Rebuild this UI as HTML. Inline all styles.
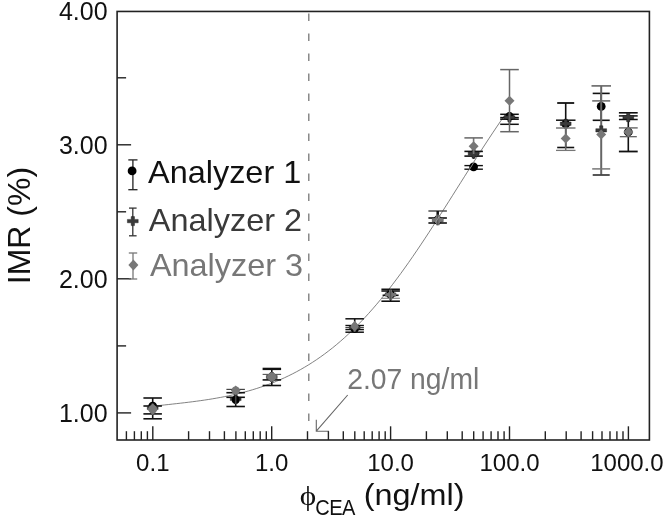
<!DOCTYPE html>
<html><head><meta charset="utf-8"><title>IMR vs CEA concentration</title>
<style>html,body{margin:0;padding:0;background:#fff}svg{display:block;filter:blur(0.35px)}</style></head>
<body>
<svg width="666" height="523" viewBox="0 0 666 523" font-family="'Liberation Sans', sans-serif">
<rect width="666" height="523" fill="#fff"/>
<line x1="308.8" y1="13.5" x2="308.8" y2="421" stroke="#777" stroke-width="1.3" stroke-dasharray="7.5 12.5"/>
<path d="M152.7,406.26 L156.7,405.81 L160.7,405.37 L164.7,404.93 L168.7,404.50 L172.7,404.06 L176.7,403.62 L180.7,403.16 L184.7,402.70 L188.7,402.21 L192.7,401.71 L196.7,401.18 L200.7,400.63 L204.7,400.05 L208.7,399.44 L212.7,398.79 L216.7,398.10 L220.7,397.38 L224.7,396.60 L228.7,395.79 L232.7,394.92 L236.7,394.00 L240.7,393.02 L244.7,391.98 L248.7,390.88 L252.7,389.71 L256.7,388.48 L260.7,387.17 L264.7,385.79 L268.7,384.34 L272.7,382.80 L276.7,381.17 L280.7,379.46 L284.7,377.66 L288.7,375.76 L292.7,373.77 L296.7,371.67 L300.7,369.47 L304.7,367.16 L308.7,364.75 L312.7,362.21 L316.7,359.57 L320.7,356.80 L324.7,353.91 L328.7,350.89 L332.7,347.75 L336.7,344.47 L340.7,341.06 L344.7,337.52 L348.7,333.84 L352.7,330.03 L356.7,326.08 L360.7,321.98 L364.7,317.75 L368.7,313.38 L372.7,308.87 L376.7,304.22 L380.7,299.44 L384.7,294.52 L388.7,289.47 L392.7,284.29 L396.7,278.99 L400.7,273.58 L404.7,268.04 L408.7,262.40 L412.7,256.65 L416.7,250.81 L420.7,244.88 L424.7,238.87 L428.7,232.79 L432.7,226.64 L436.7,220.44 L440.7,214.18 L444.7,207.90 L448.7,201.58 L452.7,195.25 L456.7,188.90 L460.7,182.56 L464.7,176.23 L468.7,169.91 L472.7,163.63 L476.7,157.38 L480.7,151.17 L484.7,145.02 L488.7,138.92 L492.7,132.89 L496.7,126.93 L500.7,121.04 L504.7,115.24" fill="none" stroke="#6c6c6c" stroke-width="0.85" stroke-linejoin="round"/>
<path d="M347.7,395 L316.3,431.2 M316.3,419.8 L316.3,431.2 L329,431.2" fill="none" stroke="#666" stroke-width="1.1"/>
<line x1="152.7" y1="398.0" x2="152.7" y2="418.8" stroke="#111" stroke-width="1.6"/>
<line x1="143.4" y1="398.0" x2="161.9" y2="398.0" stroke="#111" stroke-width="1.6"/>
<line x1="143.4" y1="413.9" x2="161.9" y2="413.9" stroke="#111" stroke-width="1.6"/>
<circle cx="152.7" cy="406.2" r="4.4" fill="#000"/>
<line x1="143.4" y1="406.0" x2="161.9" y2="406.0" stroke="#111" stroke-width="1.6"/>
<line x1="143.4" y1="418.8" x2="161.9" y2="418.8" stroke="#111" stroke-width="1.6"/>
<path d="M147.3,406.4H151.0V403.5H154.3V406.4H158.1V409.6H154.3V412.5H151.0V409.6H147.3Z" fill="#3a3a3a" stroke="#111" stroke-width="0.4"/>
<path d="M152.7,403.3L157.9,409.3L152.7,415.3L147.5,409.3Z" fill="#777"/>
<circle cx="152.7" cy="409.3" r="4.3" fill="#777"/>
<line x1="235.7" y1="392.7" x2="235.7" y2="406.5" stroke="#111" stroke-width="1.6"/>
<line x1="226.4" y1="392.7" x2="244.9" y2="392.7" stroke="#111" stroke-width="1.6"/>
<line x1="226.4" y1="406.5" x2="244.9" y2="406.5" stroke="#111" stroke-width="1.6"/>
<path d="M230.3,397.4H234.0V394.5H237.3V397.4H241.1V400.6H237.3V403.5H234.0V400.6H230.3Z" fill="#3a3a3a" stroke="#111" stroke-width="0.4"/>
<line x1="226.4" y1="397.3" x2="244.9" y2="397.3" stroke="#111" stroke-width="1.6"/>
<circle cx="235.7" cy="399.7" r="4.0" fill="#000"/>
<line x1="235.7" y1="396.0" x2="235.7" y2="404.0" stroke="#444" stroke-width="1.6"/>
<line x1="235.7" y1="389.4" x2="235.7" y2="393.0" stroke="#777" stroke-width="1.6"/>
<line x1="226.4" y1="389.4" x2="244.9" y2="389.4" stroke="#444" stroke-width="1.2"/>
<path d="M235.7,385.6L240.5,390.4L235.7,395.2L230.9,390.4Z" fill="#777"/>
<circle cx="235.7" cy="390.4" r="3.9" fill="#777"/>
<line x1="271.8" y1="368.9" x2="271.8" y2="385.5" stroke="#111" stroke-width="1.6"/>
<line x1="262.6" y1="368.9" x2="281.1" y2="368.9" stroke="#111" stroke-width="2.4"/>
<line x1="262.6" y1="385.5" x2="281.1" y2="385.5" stroke="#111" stroke-width="1.6"/>
<circle cx="271.8" cy="377.0" r="4.4" fill="#000"/>
<line x1="262.6" y1="379.9" x2="281.1" y2="379.9" stroke="#111" stroke-width="1.6"/>
<path d="M266.4,375.4H270.2V372.5H273.4V375.4H277.2V378.6H273.4V381.5H270.2V378.6H266.4Z" fill="#3a3a3a" stroke="#111" stroke-width="0.4"/>
<line x1="262.6" y1="374.4" x2="281.1" y2="374.4" stroke="#555" stroke-width="1.1"/>
<path d="M271.8,372.0L277.1,377.0L271.8,382.0L266.5,377.0Z" fill="#777"/>
<circle cx="271.8" cy="377.0" r="4.4" fill="#777"/>
<line x1="354.7" y1="318.8" x2="354.7" y2="332.2" stroke="#111" stroke-width="1.6"/>
<line x1="345.4" y1="318.8" x2="363.9" y2="318.8" stroke="#111" stroke-width="1.5"/>
<line x1="345.4" y1="332.2" x2="363.9" y2="332.2" stroke="#111" stroke-width="1.5"/>
<circle cx="354.7" cy="328.5" r="4.4" fill="#000"/>
<line x1="345.4" y1="325.5" x2="363.9" y2="325.5" stroke="#111" stroke-width="1.4"/>
<line x1="345.4" y1="329.6" x2="363.9" y2="329.6" stroke="#111" stroke-width="1.4"/>
<path d="M349.3,325.9H353.1V323.0H356.3V325.9H360.1V329.1H356.3V332.0H353.1V329.1H349.3Z" fill="#3a3a3a" stroke="#111" stroke-width="0.4"/>
<line x1="345.4" y1="327.6" x2="363.9" y2="327.6" stroke="#444" stroke-width="1.2"/>
<path d="M354.7,320.7L358.9,326.3L354.7,331.9L350.5,326.3Z" fill="#777"/>
<circle cx="354.7" cy="326.3" r="3.4" fill="#777"/>
<line x1="390.6" y1="289.1" x2="390.6" y2="301.2" stroke="#111" stroke-width="1.6"/>
<line x1="381.4" y1="289.3" x2="399.9" y2="289.3" stroke="#111" stroke-width="1.6"/>
<line x1="381.4" y1="291.0" x2="399.9" y2="291.0" stroke="#111" stroke-width="1.6"/>
<line x1="381.4" y1="301.2" x2="399.9" y2="301.2" stroke="#111" stroke-width="1.6"/>
<circle cx="390.6" cy="294.5" r="4.4" fill="#000"/>
<line x1="382.6" y1="295.3" x2="398.6" y2="295.3" stroke="#111" stroke-width="1.6"/>
<path d="M385.2,292.9H389.0V290.0H392.2V292.9H396.0V296.1H392.2V299.0H389.0V296.1H385.2Z" fill="#3a3a3a" stroke="#111" stroke-width="0.4"/>
<line x1="381.4" y1="298.3" x2="399.9" y2="298.3" stroke="#888" stroke-width="1.2"/>
<path d="M385.3,293.2H389.1V289.7H392.1V293.2H395.9V296.2H392.1V299.7H389.1V296.2H385.3Z" fill="#777"/>
<path d="M390.6,290.3L395.0,294.7L390.6,299.1L386.2,294.7Z" fill="#777"/>
<line x1="390.6" y1="289.7" x2="390.6" y2="299.7" stroke="#555" stroke-width="1.3"/>
<line x1="437.7" y1="211.0" x2="437.7" y2="223.0" stroke="#111" stroke-width="1.6"/>
<line x1="428.4" y1="218.0" x2="446.9" y2="218.0" stroke="#111" stroke-width="1.6"/>
<line x1="428.4" y1="223.0" x2="446.9" y2="223.0" stroke="#111" stroke-width="1.6"/>
<circle cx="437.7" cy="220.0" r="4.4" fill="#000"/>
<path d="M432.3,218.3H436.1V215.5H439.3V218.3H443.1V221.7H439.3V224.5H436.1V221.7H432.3Z" fill="#3a3a3a" stroke="#111" stroke-width="0.4"/>
<line x1="428.4" y1="211.0" x2="446.9" y2="211.0" stroke="#444" stroke-width="1.4"/>
<line x1="437.7" y1="211.0" x2="437.7" y2="216.0" stroke="#111" stroke-width="2.4"/>
<path d="M432.1,218.3H436.0V214.8H439.4V218.3H443.3V221.7H439.4V225.2H436.0V221.7H432.1Z" fill="#777"/>
<path d="M437.7,214.9L442.8,220.0L437.7,225.1L432.6,220.0Z" fill="#777"/>
<line x1="437.7" y1="214.8" x2="437.7" y2="225.2" stroke="#555" stroke-width="1.3"/>
<line x1="435.4" y1="222.6" x2="439.8" y2="215.6" stroke="#a5a5a5" stroke-width="0.8"/>
<line x1="473.6" y1="165.5" x2="473.6" y2="169.2" stroke="#111" stroke-width="1.6"/>
<line x1="464.4" y1="165.6" x2="482.9" y2="165.6" stroke="#111" stroke-width="1.4"/>
<line x1="464.4" y1="169.2" x2="482.9" y2="169.2" stroke="#111" stroke-width="1.4"/>
<circle cx="473.6" cy="166.8" r="4.4" fill="#000"/>
<line x1="473.6" y1="151.4" x2="473.6" y2="159.0" stroke="#3a3a3a" stroke-width="1.6"/>
<line x1="464.4" y1="151.4" x2="482.9" y2="151.4" stroke="#111" stroke-width="1.6"/>
<line x1="464.4" y1="156.1" x2="482.9" y2="156.1" stroke="#111" stroke-width="1.6"/>
<path d="M468.2,152.0H472.0V149.2H475.2V152.0H479.0V155.3H475.2V158.2H472.0V155.3H468.2Z" fill="#3a3a3a" stroke="#111" stroke-width="0.4"/>
<line x1="473.6" y1="137.9" x2="473.6" y2="154.0" stroke="#777" stroke-width="1.6"/>
<line x1="464.4" y1="137.9" x2="482.9" y2="137.9" stroke="#666" stroke-width="1.5"/>
<path d="M473.6,141.2L478.6,146.2L473.6,151.2L468.6,146.2Z" fill="#777"/>
<line x1="469" y1="170.2" x2="474.2" y2="161.8" stroke="#999" stroke-width="0.9"/>
<line x1="509.5" y1="114.3" x2="509.5" y2="124.3" stroke="#111" stroke-width="1.6"/>
<line x1="500.2" y1="114.3" x2="518.8" y2="114.3" stroke="#111" stroke-width="1.5"/>
<line x1="500.2" y1="119.2" x2="518.8" y2="119.2" stroke="#111" stroke-width="1.5"/>
<circle cx="509.5" cy="116.5" r="4.4" fill="#000"/>
<line x1="500.2" y1="117.6" x2="518.8" y2="117.6" stroke="#111" stroke-width="1.5"/>
<line x1="500.2" y1="124.3" x2="518.8" y2="124.3" stroke="#111" stroke-width="1.5"/>
<path d="M504.1,115.8H507.9V112.9H511.1V115.8H514.9V119.1H511.1V121.9H507.9V119.1H504.1Z" fill="#3a3a3a" stroke="#111" stroke-width="0.4"/>
<line x1="509.5" y1="69.6" x2="509.5" y2="131.7" stroke="#666" stroke-width="1.5"/>
<line x1="500.2" y1="69.6" x2="518.8" y2="69.6" stroke="#666" stroke-width="1.5"/>
<line x1="500.2" y1="131.7" x2="518.8" y2="131.7" stroke="#666" stroke-width="1.5"/>
<path d="M509.5,95.7L514.5,100.7L509.5,105.7L504.5,100.7Z" fill="#777"/>
<line x1="565.7" y1="103.0" x2="565.7" y2="147.5" stroke="#111" stroke-width="1.6"/>
<line x1="557.2" y1="103.0" x2="574.2" y2="103.0" stroke="#111" stroke-width="1.8"/>
<line x1="557.2" y1="147.5" x2="574.2" y2="147.5" stroke="#111" stroke-width="1.6"/>
<circle cx="565.7" cy="124.0" r="4.4" fill="#000"/>
<line x1="556.0" y1="120.2" x2="575.5" y2="120.2" stroke="#111" stroke-width="1.5"/>
<path d="M560.3,122.0H564.1V119.2H567.4V122.0H571.1V125.4H567.4V128.2H564.1V125.4H560.3Z" fill="#3a3a3a" stroke="#111" stroke-width="0.4"/>
<line x1="565.7" y1="128.0" x2="565.7" y2="150.4" stroke="#666" stroke-width="1.5"/>
<line x1="556.0" y1="128.0" x2="575.5" y2="128.0" stroke="#777" stroke-width="1.5"/>
<line x1="556.0" y1="150.4" x2="575.5" y2="150.4" stroke="#777" stroke-width="1.3"/>
<path d="M565.7,133.6L570.7,138.6L565.7,143.6L560.7,138.6Z" fill="#777"/>
<line x1="601.2" y1="93.4" x2="601.2" y2="120.3" stroke="#111" stroke-width="1.6"/>
<line x1="592.7" y1="93.4" x2="609.7" y2="93.4" stroke="#111" stroke-width="1.6"/>
<line x1="592.7" y1="120.3" x2="609.7" y2="120.3" stroke="#111" stroke-width="1.6"/>
<circle cx="601.2" cy="106.4" r="4.4" fill="#000"/>
<line x1="601.2" y1="85.9" x2="601.2" y2="175.0" stroke="#666" stroke-width="2"/>
<line x1="591.5" y1="85.9" x2="611.0" y2="85.9" stroke="#666" stroke-width="1.6"/>
<line x1="592.7" y1="175.0" x2="609.7" y2="175.0" stroke="#444" stroke-width="1.8"/>
<path d="M595.8,128.7H599.6V125.8H602.9V128.7H606.6V132.0H602.9V134.8H599.6V132.0H595.8Z" fill="#3a3a3a" stroke="#111" stroke-width="0.4"/>
<line x1="592.2" y1="100.9" x2="610.2" y2="100.9" stroke="#666" stroke-width="1.5"/>
<line x1="592.2" y1="168.9" x2="610.2" y2="168.9" stroke="#777" stroke-width="1.5"/>
<path d="M601.2,129.6L606.2,134.6L601.2,139.6L596.2,134.6Z" fill="#777"/>
<line x1="628.3" y1="113.0" x2="628.3" y2="151.5" stroke="#111" stroke-width="1.6"/>
<line x1="618.9" y1="112.8" x2="637.7" y2="112.8" stroke="#111" stroke-width="1.6"/>
<line x1="618.9" y1="151.5" x2="637.7" y2="151.5" stroke="#111" stroke-width="1.8"/>
<circle cx="628.3" cy="132.0" r="4.4" fill="#000"/>
<line x1="618.9" y1="115.9" x2="637.7" y2="115.9" stroke="#111" stroke-width="1.5"/>
<line x1="618.9" y1="119.5" x2="637.7" y2="119.5" stroke="#111" stroke-width="1.5"/>
<path d="M622.9,115.5H626.6V112.7H629.9V115.5H633.7V118.9H629.9V121.7H626.6V118.9H622.9Z" fill="#3a3a3a" stroke="#111" stroke-width="0.4"/>
<line x1="618.9" y1="127.9" x2="637.7" y2="127.9" stroke="#666" stroke-width="1.4"/>
<line x1="619.8" y1="136.7" x2="636.8" y2="136.7" stroke="#555" stroke-width="1.2"/>
<path d="M628.3,127.1L633.3,132.1L628.3,137.1L623.3,132.1Z" fill="#777"/>
<rect x="117.1" y="11.45" width="532.3" height="428.55" fill="none" stroke="#222" stroke-width="1.6"/>
<line x1="117.1" y1="412.9" x2="131.1" y2="412.9" stroke="#222" stroke-width="1.4"/>
<line x1="117.1" y1="278.8" x2="131.1" y2="278.8" stroke="#222" stroke-width="1.4"/>
<line x1="117.1" y1="144.8" x2="131.1" y2="144.8" stroke="#222" stroke-width="1.4"/>
<line x1="117.1" y1="345.9" x2="126.1" y2="345.9" stroke="#222" stroke-width="1.4"/>
<line x1="117.1" y1="211.8" x2="126.1" y2="211.8" stroke="#222" stroke-width="1.4"/>
<line x1="117.1" y1="77.8" x2="126.1" y2="77.8" stroke="#222" stroke-width="1.4"/>
<line x1="126.4" y1="440.0" x2="126.4" y2="431.2" stroke="#222" stroke-width="1.4"/>
<line x1="134.4" y1="440.0" x2="134.4" y2="431.2" stroke="#222" stroke-width="1.4"/>
<line x1="141.3" y1="440.0" x2="141.3" y2="431.2" stroke="#222" stroke-width="1.4"/>
<line x1="147.4" y1="440.0" x2="147.4" y2="431.2" stroke="#222" stroke-width="1.4"/>
<line x1="152.8" y1="440.0" x2="152.8" y2="426.3" stroke="#222" stroke-width="1.4"/>
<line x1="188.6" y1="440.0" x2="188.6" y2="431.2" stroke="#222" stroke-width="1.4"/>
<line x1="209.5" y1="440.0" x2="209.5" y2="431.2" stroke="#222" stroke-width="1.4"/>
<line x1="224.4" y1="440.0" x2="224.4" y2="431.2" stroke="#222" stroke-width="1.4"/>
<line x1="235.9" y1="440.0" x2="235.9" y2="431.2" stroke="#222" stroke-width="1.4"/>
<line x1="245.3" y1="440.0" x2="245.3" y2="431.2" stroke="#222" stroke-width="1.4"/>
<line x1="253.3" y1="440.0" x2="253.3" y2="431.2" stroke="#222" stroke-width="1.4"/>
<line x1="260.2" y1="440.0" x2="260.2" y2="431.2" stroke="#222" stroke-width="1.4"/>
<line x1="266.3" y1="440.0" x2="266.3" y2="431.2" stroke="#222" stroke-width="1.4"/>
<line x1="271.7" y1="440.0" x2="271.7" y2="426.3" stroke="#222" stroke-width="1.4"/>
<line x1="307.5" y1="440.0" x2="307.5" y2="431.2" stroke="#222" stroke-width="1.4"/>
<line x1="328.4" y1="440.0" x2="328.4" y2="431.2" stroke="#222" stroke-width="1.4"/>
<line x1="343.3" y1="440.0" x2="343.3" y2="431.2" stroke="#222" stroke-width="1.4"/>
<line x1="354.8" y1="440.0" x2="354.8" y2="431.2" stroke="#222" stroke-width="1.4"/>
<line x1="364.2" y1="440.0" x2="364.2" y2="431.2" stroke="#222" stroke-width="1.4"/>
<line x1="372.2" y1="440.0" x2="372.2" y2="431.2" stroke="#222" stroke-width="1.4"/>
<line x1="379.1" y1="440.0" x2="379.1" y2="431.2" stroke="#222" stroke-width="1.4"/>
<line x1="385.2" y1="440.0" x2="385.2" y2="431.2" stroke="#222" stroke-width="1.4"/>
<line x1="390.6" y1="440.0" x2="390.6" y2="426.3" stroke="#222" stroke-width="1.4"/>
<line x1="426.4" y1="440.0" x2="426.4" y2="431.2" stroke="#222" stroke-width="1.4"/>
<line x1="447.3" y1="440.0" x2="447.3" y2="431.2" stroke="#222" stroke-width="1.4"/>
<line x1="462.2" y1="440.0" x2="462.2" y2="431.2" stroke="#222" stroke-width="1.4"/>
<line x1="473.7" y1="440.0" x2="473.7" y2="431.2" stroke="#222" stroke-width="1.4"/>
<line x1="483.1" y1="440.0" x2="483.1" y2="431.2" stroke="#222" stroke-width="1.4"/>
<line x1="491.1" y1="440.0" x2="491.1" y2="431.2" stroke="#222" stroke-width="1.4"/>
<line x1="498.0" y1="440.0" x2="498.0" y2="431.2" stroke="#222" stroke-width="1.4"/>
<line x1="504.1" y1="440.0" x2="504.1" y2="431.2" stroke="#222" stroke-width="1.4"/>
<line x1="509.5" y1="440.0" x2="509.5" y2="426.3" stroke="#222" stroke-width="1.4"/>
<line x1="545.3" y1="440.0" x2="545.3" y2="431.2" stroke="#222" stroke-width="1.4"/>
<line x1="566.2" y1="440.0" x2="566.2" y2="431.2" stroke="#222" stroke-width="1.4"/>
<line x1="581.1" y1="440.0" x2="581.1" y2="431.2" stroke="#222" stroke-width="1.4"/>
<line x1="592.6" y1="440.0" x2="592.6" y2="431.2" stroke="#222" stroke-width="1.4"/>
<line x1="602.0" y1="440.0" x2="602.0" y2="431.2" stroke="#222" stroke-width="1.4"/>
<line x1="610.0" y1="440.0" x2="610.0" y2="431.2" stroke="#222" stroke-width="1.4"/>
<line x1="616.9" y1="440.0" x2="616.9" y2="431.2" stroke="#222" stroke-width="1.4"/>
<line x1="623.0" y1="440.0" x2="623.0" y2="431.2" stroke="#222" stroke-width="1.4"/>
<line x1="628.4" y1="440.0" x2="628.4" y2="426.3" stroke="#222" stroke-width="1.4"/>
<text transform="translate(107.6,421.7) scale(1,1)" font-size="25" text-anchor="end" fill="#111">1.00</text>
<text transform="translate(107.6,287.8) scale(1,1)" font-size="25" text-anchor="end" fill="#111">2.00</text>
<text transform="translate(107.6,154.0) scale(1,1)" font-size="25" text-anchor="end" fill="#111">3.00</text>
<text transform="translate(107.6,20.4) scale(1,1)" font-size="25" text-anchor="end" fill="#111">4.00</text>
<text transform="translate(152.8,471.2) scale(1,1)" font-size="24" text-anchor="middle" fill="#111">0.1</text>
<text transform="translate(271.7,471.2) scale(1,1)" font-size="24" text-anchor="middle" fill="#111">1.0</text>
<text transform="translate(390.6,471.2) scale(1,1)" font-size="24" text-anchor="middle" fill="#111">10.0</text>
<text transform="translate(509.5,471.2) scale(1,1)" font-size="24" text-anchor="middle" fill="#111">100.0</text>
<text transform="translate(626.9,471.2) scale(1,1)" font-size="24" text-anchor="middle" fill="#111">1000.0</text>
<text transform="translate(30.4,284.2) rotate(-90) scale(1.016,1)" font-size="31.5" fill="#111">IMR (%)</text>
<text transform="translate(299.8,505.2) scale(1.04,0.9)" font-size="30" font-family="'Liberation Serif', serif" fill="#111">ϕ</text>
<text transform="translate(315.3,514.8) scale(0.93,1)" font-size="21.6" letter-spacing="-0.6" fill="#111">CEA</text>
<text transform="translate(363.8,504.6) scale(1.117,1)" font-size="29" text-anchor="start" fill="#111">(ng/ml)</text>
<text transform="translate(347.2,388.8) scale(1,1.05)" font-size="28.3" text-anchor="start" fill="#777">2.07 ng/ml</text>
<line x1="132.9" y1="159.9" x2="132.9" y2="189.7" stroke="#222" stroke-width="1.3"/>
<line x1="128.3" y1="159.9" x2="137.5" y2="159.9" stroke="#222" stroke-width="1.3"/>
<line x1="128.3" y1="189.7" x2="137.5" y2="189.7" stroke="#222" stroke-width="1.3"/>
<circle cx="132.1" cy="170.9" r="4.4" fill="#000"/>
<text transform="translate(148.0,183.0) scale(1.03,1)" font-size="31.5" text-anchor="start" fill="#111">Analyzer 1</text>
<line x1="132.8" y1="208.1" x2="132.8" y2="235.8" stroke="#333" stroke-width="1.3"/>
<line x1="129.0" y1="208.1" x2="136.60000000000002" y2="208.1" stroke="#333" stroke-width="1.3"/>
<line x1="129.0" y1="235.8" x2="136.60000000000002" y2="235.8" stroke="#333" stroke-width="1.3"/>
<path d="M127.4,219.4H131.2V216.6H134.5V219.4H138.2V222.8H134.5V225.6H131.2V222.8H127.4Z" fill="#3a3a3a" stroke="#111" stroke-width="0.4"/>
<text transform="translate(148.8,231.3) scale(1.03,1)" font-size="31.5" text-anchor="start" fill="#3a3a3a">Analyzer 2</text>
<line x1="133" y1="253" x2="133" y2="279" stroke="#777" stroke-width="1.3"/>
<line x1="128.8" y1="253" x2="137.2" y2="253" stroke="#777" stroke-width="1.3"/>
<line x1="128.8" y1="279" x2="137.2" y2="279" stroke="#777" stroke-width="1.3"/>
<path d="M133.4,259.4L138.4,264.9L133.4,270.4L128.4,264.9Z" fill="#777"/>
<text transform="translate(149.9,275.8) scale(1.03,1)" font-size="31.5" text-anchor="start" fill="#777">Analyzer 3</text>
</svg>
</body></html>
